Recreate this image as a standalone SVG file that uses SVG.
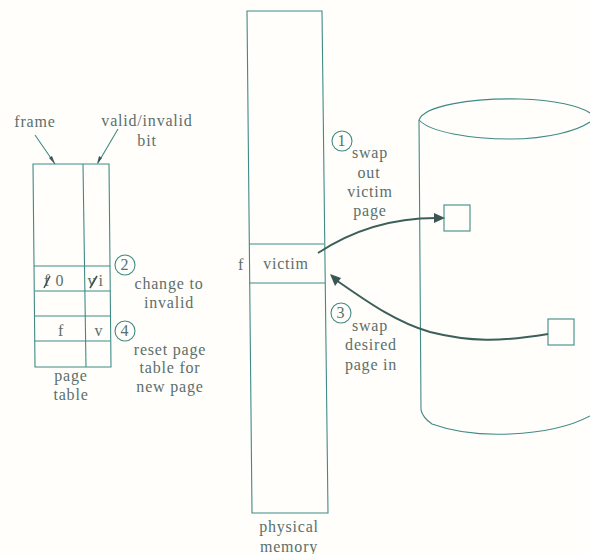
<svg xmlns="http://www.w3.org/2000/svg" width="590" height="554" viewBox="0 0 590 554">
<defs>
<style>
.l{fill:none;stroke:#3f8a86;stroke-width:1.1}
.b{fill:none;stroke:#3d5f5c;stroke-width:2}
.a{fill:#3d5654;stroke:none}
.g{fill:#fffefa;stroke:#3f8a86;stroke-width:1.1}
.s{fill:none;stroke:#3d5654;stroke-width:1.6}
text{font-family:"Liberation Serif",serif;font-size:16px;letter-spacing:.8px;fill:#5b6f6c;text-anchor:middle}
</style>
</defs>
<rect width="590" height="554" fill="#fffefa"/>
<g id="page-table">
<path class="l" d="M33 164H109L111 367H35Z"/>
<path class="l" d="M83 164L86 367"/>
<path class="l" d="M34 266H110M35 291H110M35 316H110M35 341H110"/>
<text x="47" y="286">f</text><text x="60" y="286">0</text>
<path class="s" d="M44 288L50 276"/>
<text x="92" y="286">v</text><text x="101" y="286">i</text>
<path class="s" d="M90 288L97 276"/>
<text x="61" y="336">f</text><text x="99" y="336">v</text>
<text x="71" y="381">page</text><text x="71" y="400">table</text>
</g>
<g id="labels-left">
<text x="35" y="127">frame</text>
<text x="147" y="126">valid/invalid</text><text x="147" y="146">bit</text>
<circle class="l" cx="125" cy="265" r="10"/><text x="125" y="270">2</text>
<text x="169" y="289">change to</text><text x="169" y="308">invalid</text>
<circle class="l" cx="125" cy="331" r="10"/><text x="125" y="336">4</text>
<text x="170" y="355">reset page</text><text x="170" y="373">table for</text><text x="170" y="392">new page</text>
</g>
<g id="physical-memory">
<path class="l" d="M247 11H322L328 513H252Z"/>
<path class="l" d="M249 244H324M250 283H325"/>
<text x="241" y="270">f</text><text x="286" y="269">victim</text>
<text x="289" y="532">physical</text><text x="289" y="552">memory</text>
</g>
<g id="disk">
<path class="l" d="M419 120L421 410Q423 418 432 424Q465 436 510 434Q560 432 590 416"/>
<path class="l" d="M419 120C424 106 470 98 520 99C555 100 580 106 590 113"/>
<path class="l" d="M419 120C430 132 470 139 510 139C550 139 578 130 590 122"/>
</g>
<g id="page-out"><rect class="g" x="444" y="205" width="26" height="26"/></g>
<g id="page-in"><rect class="g" x="548" y="319" width="26" height="26"/></g>
<g id="step1"><circle class="l" cx="342" cy="141" r="10"/><text x="342" y="146">1</text>
<text x="370" y="158">swap</text><text x="369" y="178">out</text><text x="370" y="197">victim</text><text x="370" y="216">page</text></g>
<g id="step3"><circle class="l" cx="341" cy="313" r="10"/><text x="341" y="318">3</text>
<text x="370" y="331">swap</text><text x="371" y="350">desired</text><text x="371" y="370">page in</text></g>
<g id="connectors">
<path class="l" d="M35 135L55 164M118 129L98 163"/>
<path class="a" d="M55 164L49 158L52 156ZM97 164L99 156L102 158Z"/>
<path class="b" d="M318 253C350 232 390 218 436 218"/>
<path class="a" d="M445 218L434 213V223Z"/>
<path class="b" d="M548 334C500 342 470 342 430 332C395 322 365 300 336 280"/>
<path class="a" d="M330 274L341 278L335 286Z"/>
</g>
</svg>
